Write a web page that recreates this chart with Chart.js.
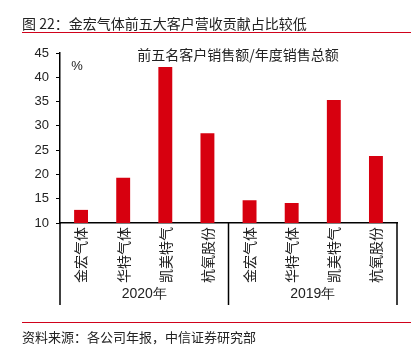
<!DOCTYPE html>
<html>
<head>
<meta charset="utf-8">
<script src="https://cdn.jsdelivr.net/npm/chart.js@4"></script>
<style>
html, body { margin: 0; padding: 0; background: #fff; }
#wrap { width: 419px; height: 354px; position: relative; }
</style>
</head>
<body>
<div id="wrap"><canvas id="c" width="419" height="354"></canvas></div>
<script>
var CATEGORIES = ["金宏气体", "华特气体", "凯美特气", "杭氧股份", "金宏气体", "华特气体", "凯美特气", "杭氧股份"];
var SHARES = [12.7, 19.3, 42.1, 28.5, 14.7, 14.1, 35.3, 23.8];
var GROUPS = ["2020年", "2019年"];
var Y_TICKS = [10, 15, 20, 25, 30, 35, 40, 45];

var RED = "#d7000f";
var CJK = "'Noto Sans CJK SC', 'Noto Sans', sans-serif";
var LAT = "'Liberation Sans', Arial, sans-serif";

var decor = {
    id: 'decor',
    afterDraw: function(chart){
        var ctx = chart.ctx;
        var area = chart.chartArea;
        var xs = chart.scales.x;
        ctx.save();

        // header
        ctx.fillStyle = "#222";
        ctx.font = "14px " + CJK;
        ctx.textBaseline = "middle";
        ctx.textAlign = "left";
        ctx.fillText("图 22：金宏气体前五大客户营收贡献占比较低", 22, 24);
        ctx.strokeStyle = "#d0021b";
        ctx.lineWidth = 1;
        ctx.beginPath(); ctx.moveTo(22, 32.5); ctx.lineTo(411, 32.5); ctx.stroke();

        // footer
        ctx.beginPath(); ctx.moveTo(22, 322.5); ctx.lineTo(411, 322.5); ctx.stroke();
        ctx.fillStyle = "#222";
        ctx.font = "13px " + CJK;
        ctx.fillText("资料来源：各公司年报，中信证券研究部", 22, 337);

        // title and unit
        ctx.textAlign = "center";
        ctx.font = "14px " + CJK;
        ctx.fillText("前五名客户销售额/年度销售总额", 238, 55);
        ctx.font = "13px " + LAT;
        ctx.fillText("%", 77, 66);

        // group separators
        var bottom = 305;
        var n = CATEGORIES.length;
        var half = (xs.getPixelForValue(1) - xs.getPixelForValue(0)) / 2;
        var per = n / GROUPS.length;
        ctx.strokeStyle = "#000";
        ctx.lineWidth = 1.5;
        var edges = [];
        for(var g = 0; g <= GROUPS.length; g++){
            var idx = g * per;
            var x = idx < n ? xs.getPixelForValue(idx) - half : xs.getPixelForValue(n - 1) + half;
            edges.push(x);
            ctx.beginPath(); ctx.moveTo(x, area.bottom); ctx.lineTo(x, bottom); ctx.stroke();
        }
        ctx.font = "14px " + LAT;
        ctx.fillStyle = "#222";
        for(var g = 0; g < GROUPS.length; g++){
            ctx.fillText(GROUPS[g], (edges[g] + edges[g + 1]) / 2, 294);
        }
        ctx.restore();
    }
};

var ctx = document.getElementById("c").getContext("2d");
new Chart(ctx, {
    type: 'bar',
    data: {
        labels: CATEGORIES,
        datasets: [{
            data: SHARES,
            backgroundColor: RED,
            barPercentage: 0.66,
            categoryPercentage: 0.5
        }]
    },
    options: {
        responsive: false,
        animation: false,
        devicePixelRatio: 1,
        layout: { padding: { left: 14, right: 22, top: 53, bottom: 61 } },
        plugins: {
            legend: { display: false },
            tooltip: { enabled: false }
        },
        scales: {
            x: {
                grid: { display: false, drawTicks: false },
                border: { display: true, color: "#000", width: 1.5 },
                ticks: {
                    minRotation: 90, maxRotation: 90, autoSkip: false,
                    color: "#222", font: { family: CJK, size: 14 }, padding: 4
                },
                afterFit: function(s){ s.height = 70; }
            },
            y: {
                min: 10, max: 45,
                afterBuildTicks: function(s){ s.ticks = Y_TICKS.map(function(v){ return { value: v }; }); },
                grid: { drawOnChartArea: false, drawTicks: true, tickLength: 4, color: "#000" },
                border: { display: true, color: "#000", width: 1.5 },
                ticks: { color: "#222", font: { family: LAT, size: 13 }, padding: 7 },
                afterFit: function(s){ s.width = 46; }
            }
        }
    },
    plugins: [decor]
});
</script>
</body>
</html>
